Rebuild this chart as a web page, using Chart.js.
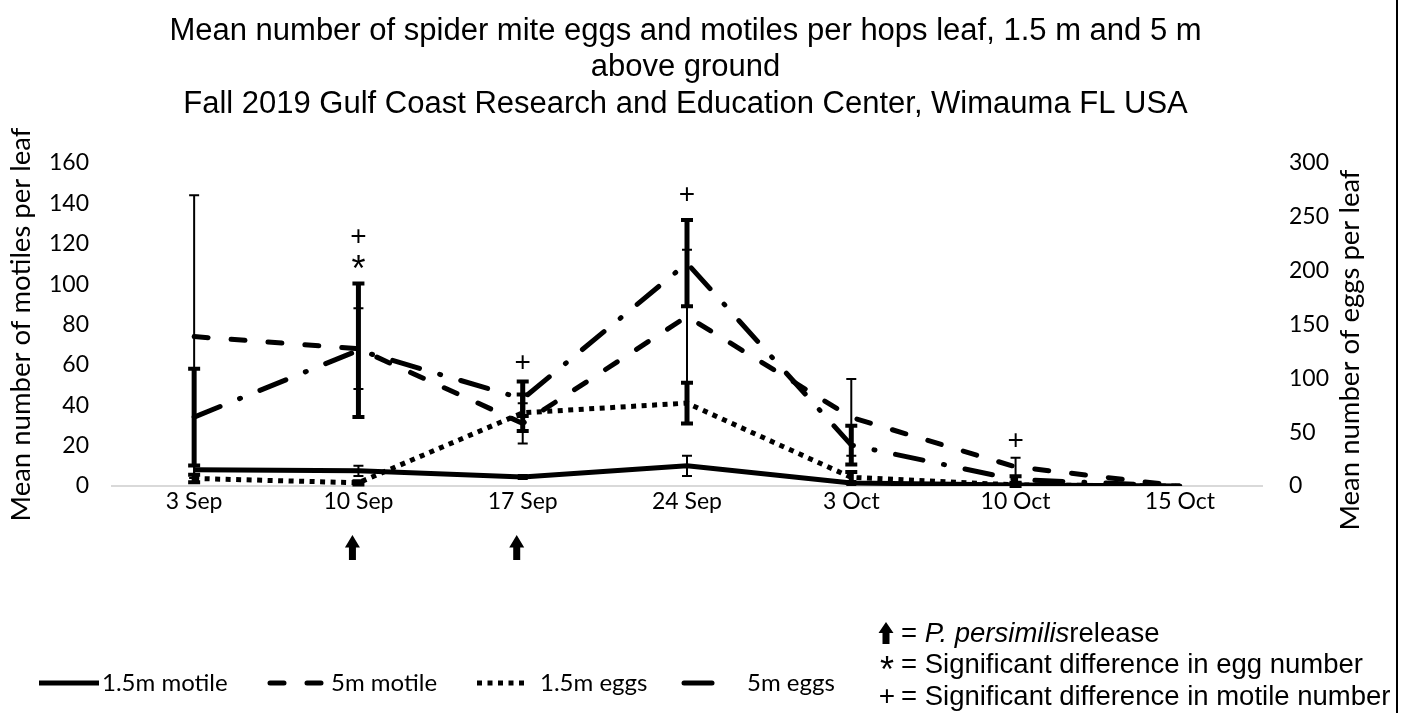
<!DOCTYPE html>
<html><head><meta charset="utf-8">
<script src="https://cdn.jsdelivr.net/npm/chart.js@4.4.1/dist/chart.umd.min.js"></script>
<style>html,body{margin:0;padding:0;background:#fff;overflow:hidden}</style>
</head><body>
<canvas id="c" width="1401" height="713"></canvas>
<script>
// ---------- data ----------
const categories = ['3 Sep', '10 Sep', '17 Sep', '24 Sep', '3 Oct', '10 Oct', '15 Oct'];
const seriesNames = ['1.5m motile', '5m motile', '1.5m eggs', '5m eggs'];
const motile15    = [8, 7.5, 4.5, 10, 1.5, 0.5, 0];
const motile15Err = [2, 2.5, 1, 5, 1, 0.5, 0];
const motile5     = [74, 68, 31, 84, 34, 9.5, 0];
const motile5Err  = [70, 20, 10, 33, 19, 4.5, 0];
const eggs15      = [7, 3, 68, 77, 8, 1, 0];
const eggs15Err   = [3.5, 1.5, 17, 19, 5, 1, 0];
const eggs5       = [64, 126, 81, 207, 38, 6, 0];
const eggs5Err    = [45, 62, 16, 40, 18, 3, 0];
const motileAxis  = {min: 0, max: 160, step: 20};
const eggAxis     = {min: 0, max: 300, step: 50};
// significance marks, placed at these heights (motile-axis units)
const sigMotileAt = [null, 123, 61, 144, null, 22, null];   // "+"
const sigEggAt    = [null, 110, null, null, null, null, null]; // "*"
const releaseIdx  = [1, 2];  // P. persimilis release dates
const titleLines = ['Mean number of spider mite eggs and motiles per hops leaf, 1.5 m and 5 m',
                    'above ground',
                    'Fall 2019 Gulf Coast Research and Education Center, Wimauma FL USA'];
const leftTitle = 'Mean number of motiles per leaf';
const rightTitle = 'Mean number of eggs per leaf';
const noteLines = [['= ', 'P. persimilis', 'release'],
                   ['= Significant difference in egg number'],
                   ['= Significant difference in motile number']];
const noteSymbols = ['arrow', '*', '+'];

// ---------- layout ----------
const PLOT = {left: 112, right: 1262, top: 163, bottom: 486};
const W = 1401, H = 713, PAD_RIGHT = 30;
const TICKFONT = {family: 'Lato', size: 23};
const TITLE_SIZE = 31, TITLE_LH = 1.18, TITLE_TOP = 13;

function drawArrow(ctx, x, yTop, h) {
  const headH = h * 0.5, headW = 15, shaftW = 7;
  ctx.beginPath();
  ctx.moveTo(x, yTop);
  ctx.lineTo(x + headW / 2, yTop + headH);
  ctx.lineTo(x + shaftW / 2, yTop + headH);
  ctx.lineTo(x + shaftW / 2, yTop + h);
  ctx.lineTo(x - shaftW / 2, yTop + h);
  ctx.lineTo(x - shaftW / 2, yTop + headH);
  ctx.lineTo(x - headW / 2, yTop + headH);
  ctx.closePath();
  ctx.fill();
}

const overlay = {
  id: 'overlay',
  afterDatasetsDraw(chart) {
    const ctx = chart.ctx, xs = chart.scales.x;
    // error bars
    chart.data.datasets.forEach(ds => {
      const ys = chart.scales[ds.yAxisID];
      ctx.save();
      ctx.strokeStyle = '#000';
      ctx.setLineDash([]);
      ctx.lineCap = 'butt';
      ds.data.forEach((v, i) => {
        const e = ds.errors[i];
        if (!e) return;
        const x = xs.getPixelForValue(i);
        const yT = ys.getPixelForValue(v + e), yB = ys.getPixelForValue(v - e);
        ctx.lineWidth = ds.errWidth;
        ctx.beginPath(); ctx.moveTo(x, yT); ctx.lineTo(x, yB); ctx.stroke();
        ctx.lineWidth = ds.capWidth;
        ctx.beginPath();
        ctx.moveTo(x - ds.capHalf, yT); ctx.lineTo(x + ds.capHalf, yT);
        ctx.moveTo(x - ds.capHalf, yB); ctx.lineTo(x + ds.capHalf, yB);
        ctx.stroke();
      });
      ctx.restore();
    });
    // significance marks
    const ym = chart.scales.y;
    ctx.save();
    ctx.fillStyle = '#000';
    ctx.textAlign = 'center';
    ctx.textBaseline = 'middle';
    ctx.font = '28px "Liberation Sans"';
    sigMotileAt.forEach((v, i) => { if (v != null) ctx.fillText('+', xs.getPixelForValue(i), ym.getPixelForValue(v)); });
    ctx.font = '36px "Liberation Sans"';
    sigEggAt.forEach((v, i) => { if (v != null) ctx.fillText('*', xs.getPixelForValue(i), ym.getPixelForValue(v) + 7); });
    ctx.restore();
  },
  afterDraw(chart) {
    const ctx = chart.ctx, xs = chart.scales.x;
    ctx.save();
    ctx.fillStyle = '#000';
    // right axis title (reads bottom to top)
    ctx.save();
    ctx.translate(1350, 350);
    ctx.rotate(-Math.PI / 2);
    ctx.font = '27.5px Lato';
    ctx.textAlign = 'center'; ctx.textBaseline = 'middle';
    ctx.fillText(rightTitle, 0, 0);
    ctx.restore();
    // release arrows
    releaseIdx.forEach(i => drawArrow(ctx, xs.getPixelForValue(i) - 6, 535, 25));
    // legend
    const legendY = 683;
    const samples = [[39, 99, 102], [270, 321, 331], [477, 529, 540], [684, 719, 747]];
    chart.data.datasets.forEach((ds, k) => {
      const [x0, x1, tx] = samples[k];
      ctx.save();
      ctx.strokeStyle = '#000';
      ctx.lineWidth = ds.borderWidth;
      ctx.setLineDash(ds.borderDash || []);
      ctx.lineCap = ds.borderCapStyle || 'butt';
      ctx.beginPath(); ctx.moveTo(x0, legendY); ctx.lineTo(x1, legendY); ctx.stroke();
      ctx.restore();
      ctx.font = '24px Lato';
      ctx.textAlign = 'left'; ctx.textBaseline = 'middle';
      ctx.fillText(ds.label, tx, legendY);
    });
    // notes
    const noteY = [634, 665, 697];
    ctx.textBaseline = 'middle';
    noteLines.forEach((parts, k) => {
      const y = noteY[k];
      const sym = noteSymbols[k];
      if (sym === 'arrow') drawArrow(ctx, 886, y - 12, 22);
      else if (sym === '*') { ctx.font = '36px "Liberation Sans"'; ctx.textAlign = 'center'; ctx.fillText(sym, 887, y + 7); }
      else { ctx.font = '28px "Liberation Sans"'; ctx.textAlign = 'center'; ctx.fillText(sym, 887, y); }
      ctx.textAlign = 'left';
      let x = 901;
      parts.forEach((p, j) => {
        ctx.font = (k === 0 && j === 1 ? 'italic ' : '') + '27.5px "Liberation Sans"';
        ctx.fillText(p, x, y);
        x += ctx.measureText(p).width;
      });
    });
    // right frame line
    ctx.fillRect(1396, 0, 2, H);
    ctx.restore();
  }
};

const common = {borderColor: '#000', backgroundColor: '#000', pointRadius: 0, pointHoverRadius: 0, tension: 0, fill: false};
new Chart(document.getElementById('c'), {
  type: 'line',
  data: {
    labels: categories,
    datasets: [
      {...common, label: seriesNames[0], data: motile15, errors: motile15Err, yAxisID: 'y', borderWidth: 5, borderDash: [], borderCapStyle: 'butt', errWidth: 2, capWidth: 2, capHalf: 5},
      {...common, label: seriesNames[1], data: motile5, errors: motile5Err, yAxisID: 'y', borderWidth: 5, borderDash: [14, 23], borderCapStyle: 'round', errWidth: 2, capWidth: 2, capHalf: 5},
      {...common, label: seriesNames[2], data: eggs15, errors: eggs15Err, yAxisID: 'y1', borderWidth: 5, borderDash: [5, 5.5], borderCapStyle: 'butt', errWidth: 5, capWidth: 4, capHalf: 6},
      {...common, label: seriesNames[3], data: eggs5, errors: eggs5Err, yAxisID: 'y1', borderWidth: 5, borderDash: [28, 21, 1, 21], borderCapStyle: 'round', errWidth: 5, capWidth: 4, capHalf: 6}
    ]
  },
  options: {
    responsive: false,
    animation: false,
    devicePixelRatio: 1,
    layout: {padding: {left: 0, right: PAD_RIGHT, top: 0, bottom: H - PLOT.bottom - 40}},
    plugins: {
      legend: {display: false},
      tooltip: {enabled: false},
      title: {
        display: true, text: titleLines, color: '#000',
        font: {family: 'Liberation Sans', size: TITLE_SIZE, weight: 'normal', lineHeight: TITLE_LH},
        padding: {top: TITLE_TOP, bottom: PLOT.top - TITLE_TOP - 3 * TITLE_SIZE * TITLE_LH}
      }
    },
    scales: {
      x: {
        type: 'category', offset: true,
        grid: {display: false, drawTicks: false},
        border: {display: true, color: '#d9d9d9', width: 2},
        ticks: {color: '#000', font: TICKFONT, padding: 2, maxRotation: 0, autoSkip: false},
        afterFit(s) { s.height = 40; }
      },
      y: {
        position: 'left', min: motileAxis.min, max: motileAxis.max,
        grid: {display: false, drawTicks: false},
        border: {display: false},
        ticks: {stepSize: motileAxis.step, color: '#000', font: TICKFONT, padding: 23},
        title: {display: true, text: leftTitle, color: '#000', font: {family: 'Lato', size: 27.5}, padding: {top: 5, bottom: 0}},
        afterFit(s) { s.width = PLOT.left; }
      },
      y1: {
        position: 'right', min: eggAxis.min, max: eggAxis.max,
        grid: {display: false, drawTicks: false},
        border: {display: false},
        ticks: {stepSize: eggAxis.step, color: '#000', font: TICKFONT, padding: 27},
        afterFit(s) { s.width = W - PLOT.right - PAD_RIGHT; }
      }
    }
  },
  plugins: [overlay]
});
</script>
</body></html>
